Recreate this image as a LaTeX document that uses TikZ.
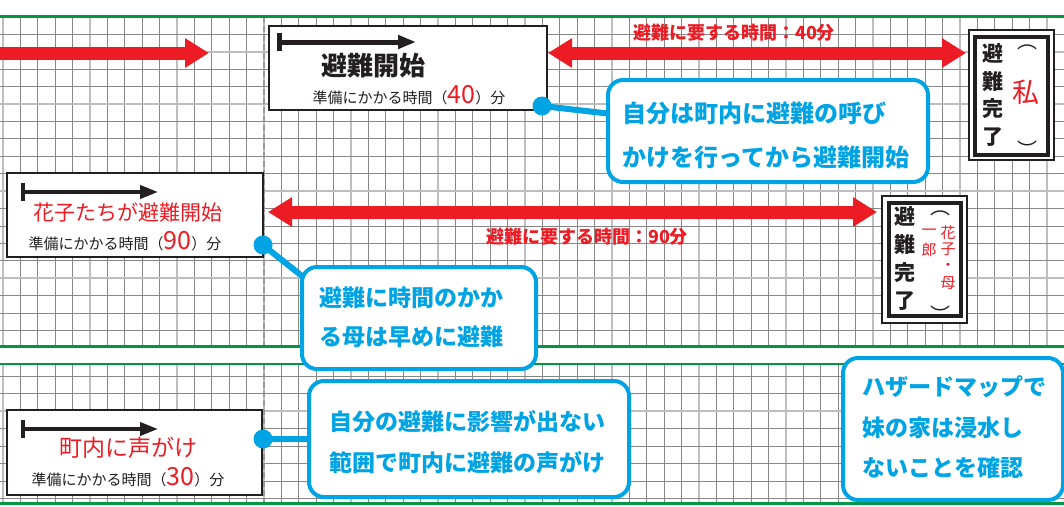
\documentclass[tikz,border=0pt]{standalone}
\usepackage{fontspec}
\setmainfont{Noto Sans CJK JP}
\usetikzlibrary{arrows.meta}
\definecolor{myred}{RGB}{237,28,36}
\definecolor{mycyan}{RGB}{0,163,228}
\definecolor{mygreen}{RGB}{0,150,70}
\definecolor{gridd}{RGB}{135,135,135}
\definecolor{gridl}{RGB}{190,190,190}
\definecolor{ink}{RGB}{35,31,32}
\newcommand{\myfs}[2]{\fontsize{#1}{#2}\selectfont}
\begin{document}
\begin{tikzpicture}[x=1pt,y=-1pt,
  gd/.style={draw=gridd,line width=1pt},
  gl/.style={draw=gridl,line width=2pt},
  greenline/.style={draw=mygreen,line width=2.2pt},
  dashv/.style={draw=gray!80,line width=2pt,dash pattern=on 6pt off 3pt},
  redarrow/.style={draw=myred,line width=13pt,-{Triangle[length=24pt,width=28pt]}},
  reddouble/.style={draw=myred,line width=13pt,{Triangle[length=24pt,width=28pt]}-{Triangle[length=24pt,width=28pt]}},
  startarrow/.style={draw=ink,line width=4pt,{Bar[width=18pt]}-{Triangle[length=18pt,width=13pt]}},
  whitebox/.style={draw=ink,line width=1.3pt,fill=white,inner sep=0pt},
  txt/.style={inner sep=0pt,text=ink},
  rtxt/.style={inner sep=0pt,text=myred,font=\myfs{15}{15}},
  calloutbox/.style={draw=mycyan,line width=4pt,rounded corners=15pt,fill=white,inner sep=0pt},
  callouttext/.style={inner sep=0pt,text=mycyan,align=left,anchor=west},
  conn/.style={draw=mycyan,line width=6pt},
  dot/.style={circle,fill=mycyan,minimum size=19pt,inner sep=0pt},
  redlabel/.style={inner sep=0pt,text=myred,font=\bfseries\myfs{18}{18}}
]
\useasboundingbox (0,0) rectangle (1064,506);
\fill[white] (0,0) rectangle (1064,506);
% ---- grid, upper band
\foreach \k in {0,...,61}{\draw[gd] ({3+17.4*\k},16.5) -- ({3+17.4*\k},346.5);}
\foreach \k in {0,5,...,60}{\draw[gl] ({3+17.4*\k},16.5) -- ({3+17.4*\k},346.5);}
\foreach \k in {0,...,17}{\draw[gd] (0,{34.3+17.43*\k}) -- (1064,{34.3+17.43*\k});}
\foreach \k in {1,4,9,14}{\draw[gl] (0,{34.3+17.43*\k}) -- (1064,{34.3+17.43*\k});}
% ---- grid, lower band
\foreach \k in {0,...,61}{\draw[gd] ({3+17.4*\k},364) -- ({3+17.4*\k},503.5);}
\foreach \k in {0,5,...,60}{\draw[gl] ({3+17.4*\k},364) -- ({3+17.4*\k},503.5);}
\foreach \k in {0,...,7}{\draw[gd] (0,{376.5+17.43*\k}) -- (1064,{376.5+17.43*\k});}
\draw[gl] (0,411.3) -- (1064,411.3);
% dashed separators
\draw[dashv] (264,16.5) -- (264,346.5);
\draw[dashv] (264,364) -- (264,503.5);
% green lines
\draw[greenline] (0,16.5) -- (1064,16.5);
\draw[greenline] (0,346.5) -- (1064,346.5);
\draw[greenline] (0,364) -- (1064,364);
\draw[greenline] (0,503.5) -- (1064,503.5);

% ================= row 1
\coordinate (r0a) at (0,53);
\coordinate (r0b) at (209,53);
\draw[redarrow] (r0a) -- (r0b);

\node[whitebox,minimum width=278pt,minimum height=84pt] (boxA) at (408,68) {};
\coordinate (a1) at (277,42);
\coordinate (a2) at (416,42);
\draw[startarrow,line width=5pt] (a1) -- (a2);
\node[txt,font=\bfseries\myfs{26}{26}] (tA) at (373,66) {避難開始};
\node[txt,font=\myfs{15}{15}] (sA) at (409,95) {準備にかかる時間（{\color{myred}\myfs{25}{25}40}）分};

\node[whitebox,line width=1.2pt,minimum width=85pt,minimum height=130pt] (doneA) at (1011.5,95) {};
\node[draw=ink,line width=3.5pt,minimum width=73pt,minimum height=118pt,inner sep=0pt] (doneAin) at (1011.5,96) {};
\node[txt,font=\bfseries\myfs{21}{27.8},align=center] (vA) at (993,95) {避\\難\\完\\了};
\node[txt,font=\myfs{20}{20}] (pA1) at (1027,47) {︵};
\node[txt,font=\myfs{20}{20}] (pA2) at (1027,149) {︶};
\node[txt,text=myred,font=\myfs{27}{27}] (wA) at (1026,92) {私};

\coordinate (r1a) at (548,53);
\coordinate (r1b) at (966,53);
\draw[reddouble] (r1a) -- (r1b);
\node[redlabel] (l1) at (734,33) {避難に要する時間：40分};

\coordinate (d1c) at (542,106);
\coordinate (c1w) at (612,114);
\draw[conn] (d1c) -- (c1w);
\node[dot] (d1) at (d1c) {};
\node[calloutbox,minimum width=320pt,minimum height=102pt] (c1) at (768,131) {};
\node[callouttext,font=\bfseries\myfs{24}{44}] (c1t) at (622,135) {自分は町内に避難の呼び\\かけを行ってから避難開始};

% ================= row 2
\node[whitebox,minimum width=256pt,minimum height=84pt] (boxB) at (135,215) {};
\coordinate (b1) at (21,192);
\coordinate (b2) at (158,192);
\draw[startarrow,line width=3.8pt] (b1) -- (b2);
\node[txt,text=myred,font=\myfs{21}{21}] (tB) at (127.5,212) {花子たちが避難開始};
\node[txt,font=\myfs{15}{15}] (sB) at (125,241) {準備にかかる時間（{\color{myred}\myfs{25}{25}90}）分};

\coordinate (r2a) at (268,212);
\coordinate (r2b) at (877,212);
\draw[reddouble] (r2a) -- (r2b);
\node[redlabel] (l2) at (587,237) {避難に要する時間：90分};

\node[whitebox,line width=1.2pt,minimum width=85pt,minimum height=127pt] (doneB) at (924.5,259.5) {};
\node[draw=ink,line width=3.5pt,minimum width=72pt,minimum height=113pt,inner sep=0pt] (doneBin) at (925,259.5) {};
\node[txt,font=\bfseries\myfs{21}{27.7},align=center] (vB) at (905,258.5) {避\\難\\完\\了};
\node[txt,font=\myfs{20}{20}] (pB1) at (940,213) {︵};
\node[txt,font=\myfs{20}{20}] (pB2) at (940,314) {︶};
\node[rtxt] (h1) at (948,233) {花};
\node[rtxt] (h2) at (948,249.5) {子};
\node[rtxt] (h3) at (948,266.5) {・};
\node[rtxt] (h4) at (948,283.5) {母};
\node[rtxt] (i1) at (929,232) {一};
\node[rtxt] (i2) at (929,250) {郎};

\coordinate (d2c) at (263,245);
\coordinate (c2w) at (312,284);
\draw[conn] (d2c) -- (c2w);
\node[calloutbox,minimum width=234pt,minimum height=102pt] (c2) at (419,318) {};
\node[callouttext,font=\bfseries\myfs{23}{39.5}] (c2t) at (319,317.5) {避難に時間のかか\\る母は早めに避難};
\node[dot] (d2) at (d2c) {};

% ================= row 3
\node[whitebox,minimum width=255pt,minimum height=85pt] (boxC) at (134.5,452.5) {};
\coordinate (k1) at (21,429);
\coordinate (k2) at (158,429);
\draw[startarrow,line width=3.8pt] (k1) -- (k2);
\node[txt,text=myred,font=\myfs{23}{23}] (tC) at (128,448) {町内に声がけ};
\node[txt,font=\myfs{15}{15}] (sC) at (128,477) {準備にかかる時間（{\color{myred}\myfs{25}{25}30}）分};

\coordinate (d3c) at (263,439);
\node[calloutbox,minimum width=320pt,minimum height=116pt] (c3) at (469,439) {};
\draw[conn] (d3c) -- (c3.west);
\node[dot] (d3) at (d3c) {};
\node[callouttext,font=\bfseries\myfs{23}{41}] (c3t) at (329,442.5) {自分の避難に影響が出ない\\範囲で町内に避難の声がけ};

\node[calloutbox,minimum width=220pt,minimum height=142pt] (c4) at (953,429) {};
\node[callouttext,font=\bfseries\myfs{23}{40.5}] (c4t) at (862,427.5) {ハザードマップで\\妹の家は浸水し\\ないことを確認};
\end{tikzpicture}
\end{document}
